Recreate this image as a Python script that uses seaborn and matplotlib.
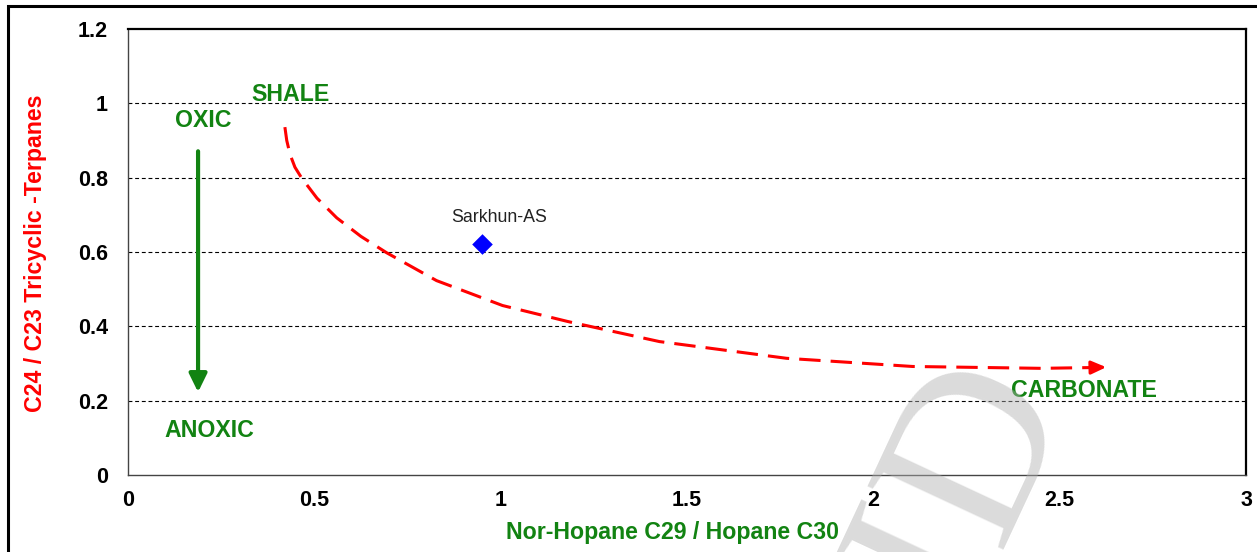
import matplotlib
matplotlib.use("Agg")
import matplotlib.pyplot as plt
import matplotlib.patches as mpatches
import seaborn as sns
import pandas as pd

# --- data -------------------------------------------------------------
sample_names = ["Sarkhun-AS"]
sample_norhopane = [0.95]      # C29 nor-hopane / C30 hopane
sample_tricyclic = [0.622]     # C24 / C23 tricyclic terpanes

# shale -> carbonate trend line
trend_x = [0.421, 0.426, 0.435, 0.448, 0.466, 0.507, 0.560, 0.625, 0.694,
           0.828, 1.005, 1.180, 1.426, 1.767, 2.105, 2.450, 2.580]
trend_y = [0.936, 0.900, 0.862, 0.828, 0.799, 0.745, 0.692, 0.642, 0.598,
           0.523, 0.456, 0.413, 0.359, 0.314, 0.292, 0.287, 0.289]
trend_tip = (2.625, 0.290)

# oxic -> anoxic arrow
redox_x = 0.188
redox_top = 0.871
redox_bottom = 0.223

x_ticks = [0, 0.5, 1, 1.5, 2, 2.5, 3]
x_tick_labels = ["0", "0.5", "1", "1.5", "2", "2.5", "3"]
y_ticks = [0, 0.2, 0.4, 0.6, 0.8, 1.0, 1.2]
y_tick_labels = ["0", "0.2", "0.4", "0.6", "0.8", "1", "1.2"]

GREEN = "#128312"
RED = "#ff0000"
BLUE = "#0000ff"

sns.set_style("white")
plt.rcParams["font.family"] = ["Liberation Sans", "DejaVu Sans"]

fig = plt.figure(figsize=(12.57, 5.52), dpi=100)
ax = fig.add_axes([128 / 1257, 1 - 475 / 552, 1118 / 1257, 446 / 552])

# horizontal dashed grid
for yv in y_ticks[1:-1]:
    ax.axhline(yv, color="black", lw=0.8, linestyle=(0, (3.5, 2.5)), zorder=0.5)

# trend curve
trend = pd.DataFrame({"x": trend_x, "y": trend_y})
sns.lineplot(data=trend, x="x", y="y", sort=False, estimator=None, ax=ax,
             color=RED, lw=2.2, linestyle=(0, (7, 3.3)), zorder=3)
ax.annotate("", xy=trend_tip, xytext=(trend_x[-1], trend_y[-1]),
            arrowprops=dict(arrowstyle="-|>,head_length=0.45,head_width=0.2",
                            color=RED, lw=2.2, shrinkA=0, shrinkB=0,
                            mutation_scale=20), zorder=3)

# sample point
samples = pd.DataFrame({"name": sample_names, "x": sample_norhopane,
                        "y": sample_tricyclic})
sns.scatterplot(data=samples, x="x", y="y", marker="D", s=110, color=BLUE,
                edgecolor=BLUE, linewidth=0, ax=ax, zorder=4, legend=False)
for _, r in samples.iterrows():
    ax.text(r["x"] + 0.047, r["y"] + 0.07, r["name"], fontsize=12.8,
            ha="center", va="center", color="#222222")

# oxic/anoxic arrow
ax.annotate("", xy=(redox_x, redox_bottom), xytext=(redox_x, redox_top),
            arrowprops=dict(arrowstyle="-|>,head_length=0.55,head_width=0.27",
                            color=GREEN, lw=3, shrinkA=0, shrinkB=0,
                            mutation_scale=20), zorder=3)

label_kw = dict(color=GREEN, fontsize=16.7, fontweight="bold", ha="center",
                va="center")
ax.text(0.437, 1.024, "SHALE", **label_kw)
ax.text(0.201, 0.954, "OXIC", **label_kw)
ax.text(0.217, 0.121, "ANOXIC", **label_kw)
ax.text(2.566, 0.228, "CARBONATE", **label_kw)

# axes
ax.set_xlim(0, 3)
ax.set_ylim(0, 1.2)
ax.set_xticks(x_ticks)
ax.set_xticklabels(x_tick_labels)
ax.set_yticks(y_ticks)
ax.set_yticklabels(y_tick_labels)
ax.tick_params(axis="both", direction="out", length=6.5, width=1,
               color="#444444", labelsize=15.5, labelcolor="black")
ax.tick_params(axis="y", pad=8)
ax.tick_params(axis="x", pad=4)
for lab in ax.get_xticklabels() + ax.get_yticklabels():
    lab.set_fontweight("bold")

ax.set_xlabel("Nor-Hopane C29 / Hopane C30", color=GREEN, fontsize=16.7,
              fontweight="bold")
ax.set_ylabel("C24 / C23 Tricyclic -Terpanes", color=RED, fontsize=16.7,
              fontweight="bold")
ax.xaxis.set_label_coords(0.487, -0.104)
ax.yaxis.set_label_coords(-0.0725, 0.498)

for side in ("top", "right"):
    ax.spines[side].set_color("black")
    ax.spines[side].set_linewidth(1.6)
for side in ("left", "bottom"):
    ax.spines[side].set_color("#444444")
    ax.spines[side].set_linewidth(1.0)
ax.set_facecolor("none")

# translucent watermark laid over the plot
fig.text(935 / 1257, 1 - 535 / 552, "SID",
         family=["Liberation Serif", "DejaVu Serif"], fontsize=165,
         color="#b0b0b0", alpha=0.45, rotation=65, ha="center", va="center",
         zorder=5)

# outer frame around the figure
fig.patches.append(mpatches.Rectangle((8 / 1257, -0.1), 1.1, 1.1 - 6 / 552,
                                      transform=fig.transFigure, fill=False,
                                      edgecolor="black", lw=2.2))

fig.savefig("out.png", dpi=100, facecolor="white")
